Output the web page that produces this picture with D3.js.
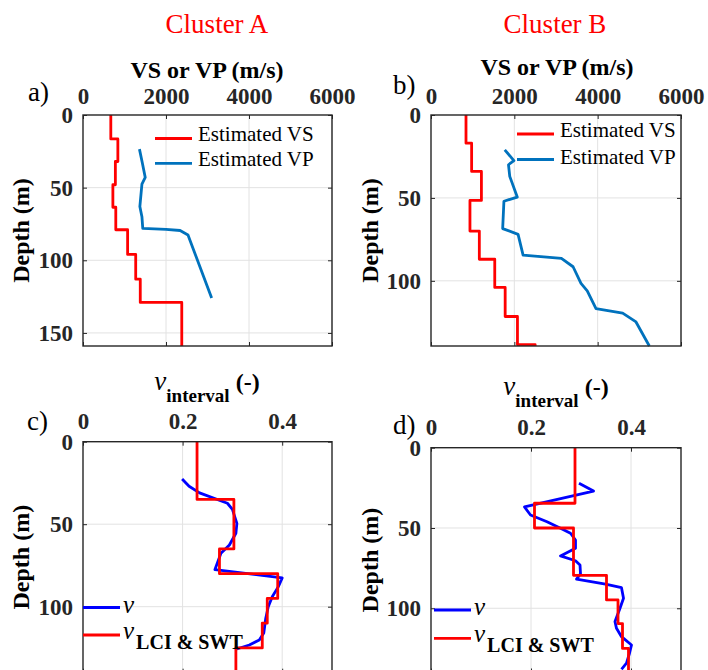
<!DOCTYPE html>
<meta charset="utf-8">
<style>
body { margin: 0; background: #fff; }
svg { display: block; font-family: "Liberation Serif", "Times New Roman", serif; }
.grid line { stroke: #e2e2e2; stroke-width: 1; }
.axis text { font-size: 23px; font-weight: bold; fill: #262626; font-family: "Liberation Serif", serif; }
.axis line { stroke: #262626; stroke-width: 1; }
.axis path { display: none; }
.box { fill: none; stroke: #262626; stroke-width: 1.4; }
.lab { font-size: 24px; font-weight: bold; fill: #000; }
</style>
<svg width="708" height="670"></svg>
<script src="https://cdn.jsdelivr.net/npm/d3@7"></script>
<script>
var svg = d3.select("svg");

// ---- Cluster A: velocities (m/s) ----
var vsA_top = [0, 16.5, 32, 48, 63.5, 79, 96, 113, 129];
var vsA_val = [670, 840, 780, 720, 790, 1075, 1270, 1380, 2380];
var vsA_bottom = 159;
var vpA_depth = [23.5, 33, 43, 47.5, 63, 70, 78, 78.7, 79.5, 82.6, 126];
var vpA_val = [1360, 1430, 1500, 1420, 1370, 1420, 1440, 2000, 2340, 2530, 3100];

// ---- Cluster B: velocities (m/s) ----
var vsB_top = [0, 17, 34, 51.5, 70, 87, 104, 121.5, 138.5];
var vsB_val = [840, 975, 1210, 935, 1160, 1530, 1780, 2075, 2500];
var vsB_bottom = 139.3;
var vpB_depth = [21, 27.5, 30, 37, 49.5, 52, 68.5, 72, 84.5, 86.5, 91.5, 101.5, 106, 116.7, 119.5, 124.8, 139.3];
var vpB_val = [1770, 1990, 1860, 1890, 2070, 1750, 1720, 2090, 2210, 3130, 3410, 3600, 3750, 3960, 4600, 4920, 5240];

// ---- Cluster A: Poisson's ratio ----
var lciA_top = [0, 35, 65, 80, 95, 110, 125];
var lciA_val = [0.229, 0.303, 0.274, 0.391, 0.370, 0.360, 0.307];
var nuA_depth = [22.6, 27, 31, 37.3, 41, 49.5, 55.5, 62.6, 67.6, 77.5, 82.5, 88, 94, 100, 107, 116, 120.2, 123.2, 125.8];
var nuA_val = [0.199, 0.213, 0.234, 0.29, 0.3, 0.309, 0.307, 0.294, 0.277, 0.265, 0.4, 0.392, 0.38, 0.372, 0.367, 0.363, 0.354, 0.334, 0.307];

// ---- Cluster B: Poisson's ratio ----
var lciB_top = [0, 34.6, 50, 79.5, 94.8, 109.5, 125];
var lciB_val = [0.288, 0.207, 0.285, 0.351, 0.374, 0.383, 0.395];
var nuB_depth = [22.2, 27, 36.9, 41.9, 46.1, 50.2, 53.3, 57.5, 62.6, 67.4, 70.4, 73, 78.6, 81.8, 84.9, 87.2, 93.8, 100, 108.3, 112.5, 117.7, 122.9, 128, 134.2, 138];
var nuB_val = [0.296, 0.325, 0.187, 0.199, 0.232, 0.259, 0.279, 0.289, 0.289, 0.259, 0.289, 0.298, 0.299, 0.291, 0.349, 0.381, 0.385, 0.378, 0.368, 0.371, 0.381, 0.401, 0.397, 0.391, 0.381];

var velTicks = [0, 2000, 4000, 6000];
var nuTicks = [0, 0.2, 0.4];

// layered model -> list of [value, depth] corners
function steps(tops, vals, bottom) {
  var pts = [];
  tops.forEach(function(t, i) {
    var b = i < tops.length - 1 ? tops[i + 1] : bottom;
    pts.push([vals[i], t]);
    pts.push([vals[i], b]);
  });
  return pts;
}
function pairs(depths, vals) {
  return depths.map(function(d, i) { return [vals[i], d]; });
}

function panel(p) {
  var x = d3.scaleLinear().domain(p.xd).range([p.l, p.r]);
  var y = d3.scaleLinear().domain(p.yd).range([p.t, p.b]);
  var g = svg.append("g");

  var grid = g.append("g").attr("class", "grid");
  grid.selectAll(".gx").data(p.xt.slice(1)).enter().append("line")
      .attr("x1", x).attr("x2", x).attr("y1", p.t).attr("y2", p.b);
  grid.selectAll(".gy").data(p.yt.slice(1)).enter().append("line")
      .attr("y1", y).attr("y2", y).attr("x1", p.l).attr("x2", p.r);

  var fmt = p.fmt;
  g.append("g").attr("class", "axis").attr("transform", "translate(0," + p.t + ")")
      .call(d3.axisTop(x).tickValues(p.xt).tickFormat(fmt).tickSize(-4).tickSizeOuter(0).tickPadding(p.xpad));
  g.append("g").attr("class", "axis").attr("transform", "translate(0," + p.b + ")")
      .call(d3.axisBottom(x).tickValues(p.xt).tickFormat("").tickSize(-4).tickSizeOuter(0));
  g.append("g").attr("class", "axis").attr("transform", "translate(" + p.l + ",0)")
      .call(d3.axisLeft(y).tickValues(p.yt).tickSize(-4).tickSizeOuter(0).tickPadding(10));
  g.append("g").attr("class", "axis").attr("transform", "translate(" + p.r + ",0)")
      .call(d3.axisRight(y).tickValues(p.yt).tickFormat("").tickSize(-4).tickSizeOuter(0));

  var line = d3.line().x(function(d) { return x(d[0]); }).y(function(d) { return y(d[1]); });
  p.series.forEach(function(s) {
    g.append("path").datum(s.pts).attr("d", line)
        .attr("fill", "none").attr("stroke", s.color).attr("stroke-width", 2.8)
        .attr("stroke-linejoin", "round");
  });

  g.append("rect").attr("class", "box")
      .attr("x", p.l).attr("y", p.t).attr("width", p.r - p.l).attr("height", p.b - p.t);

  g.append("text").attr("class", "lab").attr("text-anchor", "middle")
      .attr("transform", "translate(" + p.ylx + "," + ((p.t + p.b) / 2) + ") rotate(-90)")
      .text("Depth (m)");

  g.append("text").attr("x", p.letter[0]).attr("y", p.letter[1])
      .attr("font-size", 27).text(p.name);
  return { x: x, y: y, g: g };
}

var fmtV = d3.format("d");
var fmtN = function(d) { return d === 0 ? "0" : d3.format(".1f")(d); };

// cluster titles
svg.append("text").attr("x", 217).attr("y", 33).attr("text-anchor", "middle")
    .attr("font-size", 27).attr("fill", "#ff0000").text("Cluster A");
svg.append("text").attr("x", 555).attr("y", 33).attr("text-anchor", "middle")
    .attr("font-size", 27).attr("fill", "#ff0000").text("Cluster B");

panel({ l: 83, r: 332, t: 115, b: 346, xd: [0, 6000], yd: [0, 159],
  xt: velTicks, yt: [0, 50, 100, 150], fmt: fmtV, xpad: 11, ylx: 29, letter: [28, 101], name: "a)",
  series: [{ pts: steps(vsA_top, vsA_val, vsA_bottom), color: "#ff0000" },
           { pts: pairs(vpA_depth, vpA_val), color: "#0072bd" }] });
panel({ l: 431, r: 681, t: 115, b: 346, xd: [0, 6000], yd: [0, 139.3],
  xt: velTicks, yt: [0, 50, 100], fmt: fmtV, xpad: 11, ylx: 378, letter: [393, 94], name: "b)",
  series: [{ pts: steps(vsB_top, vsB_val, vsB_bottom), color: "#ff0000" },
           { pts: pairs(vpB_depth, vpB_val), color: "#0072bd" }] });
panel({ l: 83, r: 332, t: 441.7, b: 672.7, xd: [0, 0.5], yd: [0, 140],
  xt: nuTicks, yt: [0, 50, 100], fmt: fmtN, xpad: 13, ylx: 29, letter: [27, 430], name: "c)",
  series: [{ pts: pairs(nuA_depth, nuA_val), color: "#0000ff" },
           { pts: steps(lciA_top, lciA_val, 140), color: "#ff0000" }] });
panel({ l: 431, r: 681, t: 447.7, b: 672.5, xd: [0, 0.5], yd: [0, 140],
  xt: nuTicks, yt: [0, 50, 100], fmt: fmtN, xpad: 13, ylx: 378, letter: [393, 434], name: "d)",
  series: [{ pts: pairs(nuB_depth, nuB_val), color: "#0000ff" },
           { pts: steps(lciB_top, lciB_val, 140), color: "#ff0000" }] });

// x-axis titles
[[207, 78], [557, 75]].forEach(function(c) {
  svg.append("text").attr("class", "lab").attr("x", c[0]).attr("y", c[1])
      .attr("text-anchor", "middle").text("VS or VP (m/s)");
});
[[207, 390], [556, 395]].forEach(function(c) {
  var t = svg.append("text").attr("class", "lab").attr("x", c[0]).attr("y", c[1])
      .attr("text-anchor", "middle");
  t.append("tspan").attr("font-style", "italic").attr("font-weight", "normal").attr("font-size", 27).text("ν");
  t.append("tspan").attr("font-size", 19).attr("dy", 12).text("interval");
  t.append("tspan").attr("dy", -12).text(" (-)");
});

// velocity legends
function velLegend(x0, rows) {
  var names = ["Estimated VS", "Estimated VP"];
  var cols = ["#ff0000", "#0072bd"];
  rows.forEach(function(r, i) {
    svg.append("line").attr("x1", x0).attr("x2", x0 + 37).attr("y1", r[0]).attr("y2", r[0])
        .attr("stroke", cols[i]).attr("stroke-width", 2.8);
    svg.append("text").attr("x", x0 + 43).attr("y", r[1]).attr("font-size", 21).text(names[i]);
  });
}
velLegend(155, [[138.5, 141], [163.3, 166]]);
velLegend(517, [[134, 137], [159.5, 163.5]]);

// poisson legends
function nuLegend(x0, yb, yr) {
  svg.append("line").attr("x1", x0).attr("x2", x0 + 37).attr("y1", yb).attr("y2", yb)
      .attr("stroke", "#0000ff").attr("stroke-width", 2.8);
  svg.append("text").attr("x", x0 + 40).attr("y", yb + 5).attr("font-size", 25)
      .attr("font-style", "italic").text("ν");
  svg.append("line").attr("x1", x0).attr("x2", x0 + 37).attr("y1", yr).attr("y2", yr)
      .attr("stroke", "#ff0000").attr("stroke-width", 2.8);
  var t = svg.append("text").attr("x", x0 + 40).attr("y", yr + 4);
  t.append("tspan").attr("font-size", 25).attr("font-style", "italic").text("ν");
  t.append("tspan").attr("font-size", 20).attr("font-weight", "bold").attr("dy", 10).attr("dx", 2).text("LCI & SWT");
}
nuLegend(83, 607.5, 635);
nuLegend(434, 610, 638.3);
</script>
